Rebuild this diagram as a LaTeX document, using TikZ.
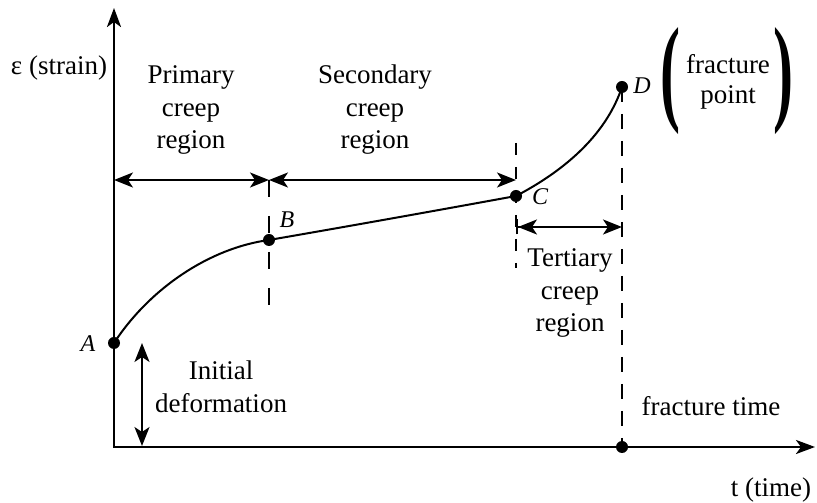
\documentclass[tikz,border=0pt]{standalone}
\usepackage{fontspec}
\usepackage{graphicx}
\setmainfont{Liberation Serif}
\usetikzlibrary{arrows.meta}

\begin{document}
\begin{tikzpicture}
  [x=1pt,y=1pt,
   every node/.style={inner sep=0pt,align=center,font=\fontsize{27}{32.5}\selectfont},
   axisline/.style={line width=2.6pt,{Stealth[length=19pt,width=14pt,inset=5pt]}-{Stealth[length=19pt,width=14pt,inset=5pt]}},
   creep/.style={line width=2pt},
   sarrow/.style={line width=2pt,{Stealth[length=19pt,width=15pt,inset=5pt]}-{Stealth[length=19pt,width=15pt,inset=5pt]}},
   guide/.style={line width=1.8pt,dash pattern=on 13pt off 11pt},
   ptlabel/.style={font=\fontsize{24}{28}\selectfont\itshape}]
  \useasboundingbox (0,0) rectangle (817,503);

  % axes
  \coordinate (O)    at (114,56);
  \coordinate (yend) at (114,495);
  \coordinate (xend) at (815,56);
  \draw[axisline] (yend) -- (O) -- (xend);

  % points on the creep curve
  \coordinate (A) at (114,160);
  \coordinate (B) at (269,263);
  \coordinate (C) at (516,307);
  \coordinate (D) at (622,416);
  \coordinate (F) at (622,56);

  \draw[creep] (A) .. controls (150,215) and (210,255) .. (B)
               .. controls (350,277) and (434,292) .. (C)
               .. controls (560,330) and (605,365) .. (D);

  % guides
  \coordinate (bt) at (269,323);
  \coordinate (bb) at (269,198);
  \coordinate (ct) at (516,360);
  \coordinate (cb) at (516,235);
  \draw[guide,dash pattern=on 17pt off 19pt] (bt) -- (bb);
  \draw[guide,dash pattern=on 12pt off 12pt] (ct) -- (cb);
  \draw[guide,dash pattern=on 15pt off 12pt] (D) -- (F);

  % region arrows
  \coordinate (r0) at (114,323);
  \coordinate (r1) at (269,323);
  \coordinate (r2) at (516,323);
  \coordinate (t0) at (516,276);
  \coordinate (t1) at (622,276);
  \coordinate (i0) at (142,160);
  \coordinate (i1) at (142,57);
  \foreach \from/\to in {r0/r1,r1/r2,i0/i1}
    \draw[sarrow] (\from) -- (\to);
  \draw[sarrow,{Bar[width=15pt]Stealth[length=19pt,width=15pt,inset=5pt]}-{Stealth[length=19pt,width=15pt,inset=5pt]}] (t0) -- (t1);

  \foreach \p in {A,B,C,D,F}
    \fill (\p) circle (6pt);

  % labels
  \node[ptlabel] (lA) at (88,159) {A};
  \node[ptlabel] (lB) at (287,283) {B};
  \node[ptlabel] (lC) at (540,306) {C};
  \node[ptlabel] (lD) at (642,417) {D};

  \node[anchor=base] (eps) at (59,428) {ε (strain)};
  \node (prim) at (191,393) {Primary\\creep\\region};
  \node (sec)  at (375,393) {Secondary\\creep\\region};
  \node (tert) at (570,210) {Tertiary\\creep\\region};
  \node (init) at (221,116) {Initial\\deformation};
  \node[font=\fontsize{27}{30}\selectfont] (fpt) at (728,421) {fracture\\point};
  \node (lpar) at (670,422) {\resizebox{20pt}{82pt}{\textbf{(}}};
  \node (rpar) at (783,422) {\resizebox{20pt}{82pt}{\textbf{)}}};
  \node[anchor=base] (ftime) at (711,87) {fracture time};
  \node[anchor=base] (tlab)  at (771,6) {t (time)};
\end{tikzpicture}
\end{document}
